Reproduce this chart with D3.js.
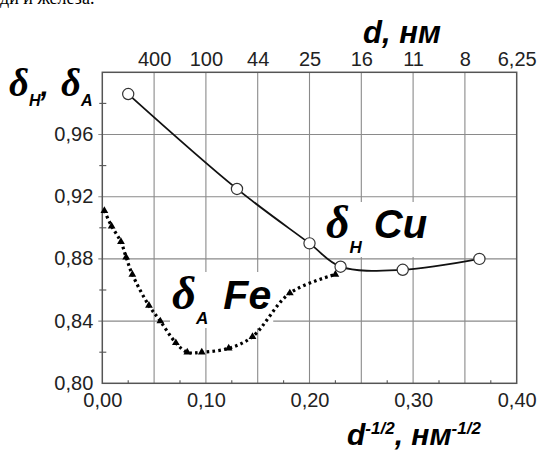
<!DOCTYPE html>
<html>
<head>
<meta charset="utf-8">
<script src="https://cdn.jsdelivr.net/npm/d3@7"></script>
<style>
  body { margin: 0; background: #fff; }
  svg { display: block; }
</style>
</head>
<body>
<div id="chart"></div>
<script>
// data
var cuX = [0.025, 0.13, 0.20, 0.23, 0.29, 0.364];
var cuY = [0.986, 0.925, 0.890, 0.875, 0.873, 0.880];

var feX = [0.002, 0.009, 0.018, 0.023, 0.029, 0.045, 0.056, 0.071, 0.082, 0.096, 0.122, 0.145, 0.181, 0.225];
var feY = [0.911, 0.901, 0.891, 0.881, 0.870, 0.850, 0.840, 0.826, 0.820, 0.820, 0.8225, 0.830, 0.858, 0.870];

var bottomTicks = [0, 0.1, 0.2, 0.3, 0.4];
var leftTicks = [0.80, 0.84, 0.88, 0.92, 0.96];
var topTicks = [0.05, 0.10, 0.15, 0.20, 0.25, 0.30, 0.35, 0.40];
var topLabels = ["400", "100", "44", "25", "16", "11", "8", "6,25"];
var vGrid = [0.05, 0.10, 0.15, 0.20, 0.25, 0.30, 0.35];
var hGrid = [0.84, 0.88, 0.92, 0.96];
var leftMinor = [0.82, 0.86, 0.90, 0.94, 0.98];
var bottomMinor = [0.025, 0.075, 0.125, 0.175, 0.225, 0.275, 0.325, 0.375];

var W = 540, H = 450;
var x = d3.scaleLinear().domain([0, 0.4]).range([102.3, 516.7]);
var y = d3.scaleLinear().domain([0.80, 1.00]).range([383.3, 72.3]);

var comma = d3.formatLocale({decimal: ",", thousands: " ", grouping: [3], currency: ["", ""]}).format(".2f");

var svg = d3.select("#chart").append("svg")
    .attr("width", W)
    .attr("height", H);

var sans = "'Liberation Sans', Arial, sans-serif";
var serif = "'Liberation Serif', 'Times New Roman', serif";

// cut-off line of document text at the very top
svg.append("text")
    .attr("x", 0).attr("y", 4)
    .style("font-family", serif).style("font-size", "18px")
    .text("ди и железа.");

// grid
var grid = svg.append("g").attr("stroke", "#8a8a8a").attr("stroke-width", 1.1);
grid.selectAll(".vg").data(vGrid).enter().append("line")
    .attr("x1", function(d) { return x(d); }).attr("x2", function(d) { return x(d); })
    .attr("y1", y(1.0)).attr("y2", y(0.8));
grid.selectAll(".hg").data(hGrid).enter().append("line")
    .attr("x1", x(0) - 4).attr("x2", x(0.4))
    .attr("y1", function(d) { return y(d); }).attr("y2", function(d) { return y(d); });

// minor ticks
var ticks = svg.append("g").attr("stroke", "#555").attr("stroke-width", 1.1);
ticks.selectAll(".lm").data(leftMinor).enter().append("line")
    .attr("x1", x(0) - 3).attr("x2", x(0) + 4)
    .attr("y1", function(d) { return y(d); }).attr("y2", function(d) { return y(d); });
ticks.selectAll(".bm").data(bottomMinor).enter().append("line")
    .attr("x1", function(d) { return x(d); }).attr("x2", function(d) { return x(d); })
    .attr("y1", y(0.8)).attr("y2", y(0.8) - 3);

// frame
svg.append("rect")
    .attr("x", x(0)).attr("y", y(1.0))
    .attr("width", x(0.4) - x(0)).attr("height", y(0.8) - y(1.0))
    .attr("fill", "none").attr("stroke", "#555").attr("stroke-width", 1.5);

// axes (labels only, frame drawn above)
var bottomAxis = svg.append("g")
    .attr("transform", "translate(0," + y(0.8) + ")")
    .call(d3.axisBottom(x).tickValues(bottomTicks).tickFormat(comma).tickSize(0).tickPadding(10));
var leftAxis = svg.append("g")
    .attr("transform", "translate(" + x(0) + ",0)")
    .call(d3.axisLeft(y).tickValues(leftTicks).tickFormat(comma).tickSize(0).tickPadding(9));
var topAxis = svg.append("g")
    .attr("transform", "translate(0," + y(1.0) + ")")
    .call(d3.axisTop(x).tickValues(topTicks)
      .tickFormat(function(d, i) { return topLabels[i]; }).tickSize(0).tickPadding(6));

[bottomAxis, leftAxis, topAxis].forEach(function(g) {
  g.select(".domain").remove();
  g.selectAll("text")
    .style("font-family", sans).style("font-size", "20px").attr("fill", "#222");
});
leftAxis.selectAll("text").attr("dy", "0.3em");

// labels inside plot (white boxes hide the grid)
function curveLabel(px, py, sub, name, size, gap) {
  var g = svg.append("g");
  var box = g.append("rect").attr("fill", "#fff");
  var t = g.append("text").attr("x", px).attr("y", py).attr("fill", "#000");
  t.append("tspan").style("font-family", serif).style("font-weight", "bold")
    .style("font-style", "italic").style("font-size", (size + 6) + "px").text("δ");
  t.append("tspan").attr("dy", 15).style("font-family", sans).style("font-weight", "bold")
    .style("font-style", "italic").style("font-size", "17px").text(sub);
  t.append("tspan").attr("dy", -15).attr("dx", gap).style("font-family", sans).style("font-weight", "bold")
    .style("font-style", "italic").style("font-size", size + "px").text(name);
  var b = t.node().getBBox();
  box.attr("x", b.x - 2).attr("y", b.y + 5).attr("width", b.width + 4).attr("height", b.height - 5);
}
curveLabel(326, 238, "H", "Cu", 40, 12);
curveLabel(172, 309, "A", "Fe", 41, 15);

// Cu: solid line with open circles
var cu = cuX.map(function(v, i) { return [v, cuY[i]]; });
var line = d3.line()
    .x(function(d) { return x(d[0]); })
    .y(function(d) { return y(d[1]); })
    .curve(d3.curveCatmullRom.alpha(0.5));

svg.append("path").datum(cu)
    .attr("d", line)
    .attr("fill", "none").attr("stroke", "#111").attr("stroke-width", 1.8);

// Fe: dotted line with filled triangles
var fe = feX.map(function(v, i) { return [v, feY[i]]; });
svg.append("path").datum(fe)
    .attr("d", line)
    .attr("fill", "none").attr("stroke", "#000").attr("stroke-width", 3.2)
    .attr("stroke-dasharray", "2.6,3.2");

svg.append("g").selectAll("path").data(fe).enter().append("path")
    .attr("d", d3.symbol().type(d3.symbolTriangle).size(26))
    .attr("transform", function(d) { return "translate(" + x(d[0]) + "," + y(d[1]) + ")"; })
    .attr("fill", "#000");

svg.append("g").selectAll("circle").data(cu).enter().append("circle")
    .attr("cx", function(d) { return x(d[0]); })
    .attr("cy", function(d) { return y(d[1]); })
    .attr("r", 5.6)
    .attr("fill", "#fff").attr("stroke", "#333").attr("stroke-width", 1.2);

// axis titles
var lt = svg.append("text").attr("x", 9).attr("y", 96).attr("fill", "#000");
lt.append("tspan").style("font-family", serif).style("font-weight", "bold").style("font-style", "italic")
  .style("font-size", "39px").text("δ");
lt.append("tspan").attr("dy", 10).style("font-family", sans).style("font-weight", "bold").style("font-style", "italic")
  .style("font-size", "16px").text("H");
lt.append("tspan").attr("dy", -10).style("font-family", sans).style("font-weight", "bold").style("font-style", "italic")
  .style("font-size", "30px").text(",");
lt.append("tspan").attr("dx", 12).style("font-family", serif).style("font-weight", "bold").style("font-style", "italic")
  .style("font-size", "39px").text("δ");
lt.append("tspan").attr("dy", 10).style("font-family", sans).style("font-weight", "bold").style("font-style", "italic")
  .style("font-size", "16px").text("A");

svg.append("text").attr("x", 363).attr("y", 43)
  .style("font-family", sans).style("font-weight", "bold").style("font-style", "italic")
  .style("font-size", "31px").text("d, нм");

var bt = svg.append("text").attr("x", 347).attr("y", 445)
  .style("font-family", sans).style("font-weight", "bold").style("font-style", "italic");
bt.append("tspan").style("font-size", "30px").text("d");
bt.append("tspan").attr("dy", -11).style("font-size", "17px").text("-1/2");
bt.append("tspan").attr("dy", 11).style("font-size", "30px").text(", нм");
bt.append("tspan").attr("dy", -11).style("font-size", "17px").text("-1/2");
</script>
</body>
</html>
